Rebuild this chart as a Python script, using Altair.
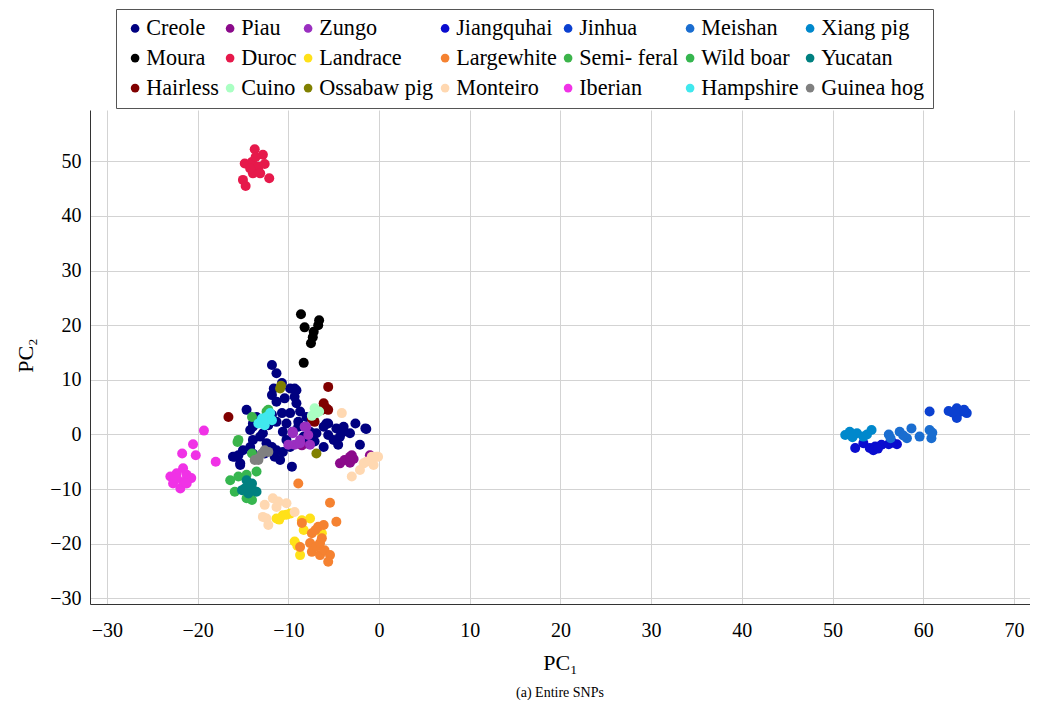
import altair as alt
import pandas as pd

breeds = ["Creole", "Piau", "Zungo", "Jiangquhai", "Jinhua", "Meishan", "Xiang pig",
          "Moura", "Duroc", "Landrace", "Largewhite", "Semi- feral", "Wild boar", "Yucatan",
          "Hairless", "Cuino", "Ossabaw pig", "Monteiro", "Iberian", "Hampshire", "Guinea hog"]
colors = ["#000080", "#8b0a8b", "#9a2fc0", "#0a0ccf", "#0b40d0", "#1a6dd0", "#0088cc",
          "#000000", "#e6194b", "#ffe119", "#f58231", "#3cb44b", "#36b64f", "#008080",
          "#800000", "#aaffc3", "#808000", "#ffd8b1", "#f032e6", "#40e8ee", "#808080"]

creole = [(-11.8,12.7),(-11.3,11.2),(-11.6,8.4),(-10.7,9.4),(-9.8,8.4),(-9.1,8.1),(-11.8,7.2),(-11.3,6.0),
          (-10.4,6.6),(-9.3,6.9),(-9.1,5.7),(-14.6,4.5),(-10.7,3.9),(-9.8,3.9),(-8.7,4.2),(-8.0,3.2),
          (-13.9,2.0),(-11.3,2.3),(-10.2,2.0),(-8.9,2.3),(-7.2,2.6),(-6.1,1.4),(-5.6,2.0),(-4.7,1.1),
          (-3.9,1.4),(-2.6,2.0),(-1.5,1.1),(-2.1,-1.9),(-5.0,-1.0),(-4.3,-0.4),(-6.1,-2.3),(-7.1,-1.3),
          (-8.0,-1.6),(-8.3,-0.4),(-9.5,0.5),(-10.6,0.5),(-9.8,-2.3),(-10.6,-3.2),(-11.5,-4.1),(-10.9,-4.7),
          (-9.6,-5.9),(-12.4,-1.6),(-13.1,-0.4),(-13.9,-1.0),(-14.2,-2.3),(-15.0,-2.9),(-15.9,-4.1),(-15.3,-5.6),
          (-13.9,1.4),(-12.8,0.2),(-12.2,1.7),(-13.9,-3.5),(-11.8,-2.3),(-12.6,-3.5),(-11.3,-2.9),(-3.2,0.2),
          (-5.6,-0.1),(-6.9,0.2),(-8.9,1.4),(-7.6,0.5),(-10.2,-1.0),(-13.5,3.2),(-11.8,3.6),(-14.2,0.8),
          (-1.4,1.0),(-3.9,0.5),(-4.5,-1.9),(-5.8,2.0),(-16.1,-4.1),(-15.5,-3.8),(-15.3,-5.3),(-9.3,8.4)]
piau = [(-4.3,-5.3),(-3.8,-4.7),(-3.0,-3.8),(-2.8,-4.5),(-1.0,-3.8),(-3.2,-5.2),(-3.2,-4.1),(-8.5,-2.0)]
zungo = [(-9.5,0.2),(-8.2,1.4),(-7.8,-0.1),(-8.7,-1.0),(-9.3,-1.9),(-7.6,-1.9),(-10.0,-1.9),(-9.5,0.5),
         (-8.0,1.4),(-8.7,-1.6)]
jiangquhai = [(52.5,-2.5),(53.4,-1.6),(54.1,-2.5),(54.7,-2.2),(55.4,-1.9),(56.2,-1.8),(57.1,-1.8),
              (54.5,-2.9),(55.0,-2.6),(56.6,-1.5)]
jinhua = [(60.7,4.2),(62.8,4.3),(63.7,4.8),(64.2,4.2),(64.8,3.9),(63.7,3.0),(64.5,4.5),(63.2,4.0)]
meishan = [(56.2,0.0),(57.4,0.5),(58.7,1.1),(59.6,-0.4),(60.7,0.8),(60.9,-0.7),(58.2,-0.7),(56.4,-0.7),
           (57.8,-0.2),(61.0,0.3)]
xiang = [(51.4,-0.1),(51.9,0.5),(52.7,0.2),(53.4,-0.4),(54.3,0.8),(53.8,0.0),(52.2,-0.5)]
moura = [(-8.6,22.0),(-6.6,20.9),(-6.7,20.0),(-8.2,19.6),(-7.2,18.8),(-7.3,17.8),(-7.5,16.7),(-8.3,13.1)]
duroc = [(-13.7,52.2),(-12.8,51.2),(-14.8,49.6),(-14.0,49.9),(-13.3,49.0),(-13.9,47.8),(-15.0,46.6),
         (-14.7,45.5),(-12.1,46.9),(-13.1,47.8),(-14.2,48.7),(-12.6,49.5),(-13.6,50.8)]
landrace = [(-11.3,-15.4),(-10.6,-14.8),(-9.8,-14.5),(-11.0,-15.6),(-8.5,-15.7),(-7.6,-15.4),(-8.3,-17.5),
            (-9.3,-19.6),(-8.7,-22.1),(-9.0,-20.4),(-6.3,-18.1),(-10.2,-14.7)]
largewhite = [(-8.9,-9.0),(-5.4,-12.5),(-4.7,-16.0),(-8.5,-16.2),(-7.4,-18.1),(-6.7,-16.9),(-6.1,-16.6),
              (-6.3,-19.0),(-7.6,-19.9),(-8.7,-20.6),(-7.4,-21.5),(-6.5,-22.1),(-6.0,-21.2),(-5.4,-22.1),
              (-5.6,-23.3),(-6.9,-20.5),(-6.5,-19.9),(-7.0,-17.5)]
semiferal = [(-15.5,-1.0),(-15.6,-1.4),(-12.4,4.2),(-14.0,3.2),(-12.2,4.5),(-14.0,-3.5)]
wildboar = [(-16.4,-8.4),(-15.5,-7.7),(-14.6,-7.4),(-13.5,-6.8),(-15.9,-10.5),(-14.6,-11.7),(-14.0,-12.0)]
yucatan = [(-14.6,-8.4),(-14.2,-9.3),(-14.8,-9.9),(-13.9,-10.2),(-13.5,-10.5),(-15.1,-10.2),(-14.4,-10.8),
           (-14.0,-9.0)]
hairless = [(-16.6,3.2),(-5.6,8.7),(-6.1,5.7),(-5.8,4.8),(-6.3,4.5),(-5.6,4.5),(-7.4,2.9),(-7.1,2.3)]
cuino = [(-7.1,4.8),(-6.9,3.9),(-7.4,3.4),(-6.6,4.2)]
ossabaw = [(-10.9,8.4),(-6.9,-3.5),(-10.8,8.9)]
monteiro = [(-4.1,3.9),(-1.4,-5.0),(-0.8,-4.1),(-0.1,-4.1),(-0.6,-5.6),(-1.7,-5.3),(-3.0,-7.7),(-2.1,-6.5),
            (-0.3,-4.1),(-12.6,-12.9),(-11.7,-11.7),(-12.4,-15.4),(-12.2,-16.6),(-11.1,-12.3),(-10.2,-12.6),
            (-9.3,-14.2),(-11.3,-13.3),(-12.8,-15.1)]
iberian = [(-19.3,0.7),(-20.5,-1.8),(-21.7,-3.5),(-20.2,-3.8),(-18.0,-5.0),(-21.6,-6.2),(-23.0,-7.7),
           (-22.3,-7.1),(-21.2,-7.4),(-20.7,-8.0),(-22.7,-9.0),(-21.9,-9.9),(-21.6,-8.7),(-21.2,-9.0),(-22.3,-8.0)]
hampshire = [(-12.9,2.9),(-12.4,3.2),(-11.8,2.6),(-13.3,2.0),(-12.6,1.7),(-12.0,3.9)]
guinea = [(-13.3,-4.4),(-12.9,-3.5),(-12.6,-2.9),(-13.7,-4.7),(-13.3,-4.7),(-12.2,-3.2)]

groups = [creole, piau, zungo, jiangquhai, jinhua, meishan, xiang, moura, duroc, landrace, largewhite,
          semiferal, wildboar, yucatan, hairless, cuino, ossabaw, monteiro, iberian, hampshire, guinea]

rows = []
for i, (name, pts) in enumerate(zip(breeds, groups)):
    for (px, py) in pts:
        rows.append({"PC1": px, "PC2": py, "Breed": name, "order": i})
df = pd.DataFrame(rows)

serif = "Liberation Serif, Times New Roman, DejaVu Serif, serif"

chart = alt.Chart(df).mark_circle(size=100, opacity=1).encode(
    x=alt.X("PC1:Q", scale=alt.Scale(domain=[-31.86, 71.77], nice=False, zero=False),
            axis=alt.Axis(title="PC₁", values=list(range(-30, 71, 10)), ticks=False,
                          labelPadding=16, titleY=58, titleBaseline="middle")),
    y=alt.Y("PC2:Q", scale=alt.Scale(domain=[-31.05, 59.4], nice=False, zero=False),
            axis=alt.Axis(title="PC₂", values=list(range(-30, 51, 10)), ticks=False,
                          labelPadding=9, titleX=-65, titleY=245, titleBaseline="middle")),
    color=alt.Color("Breed:N", scale=alt.Scale(domain=breeds, range=colors),
                    legend=alt.Legend(title=None, orient="none", legendX=26, legendY=-101,
                                      direction="horizontal", columns=7,
                                      symbolType="circle", symbolSize=75,
                                      labelFont=serif, labelFontSize=22.2, labelOffset=0,
                                      columnPadding=0, rowPadding=7, padding=8,
                                      strokeColor="#555555", fillColor="#ffffff",
                                      gridAlign="each", symbolStrokeWidth=0)),
    order=alt.Order("order:Q"),
).properties(
    width=940, height=494,
    padding={"left": 82, "top": 102, "right": 0, "bottom": 96},
    autosize=alt.AutoSizeParams(type="none"),
    title=alt.TitleParams("(a) Entire SNPs", orient="bottom", anchor="middle", font=serif,
                          fontSize=14, fontWeight="normal", offset=13, color="#000000"),
).configure(font=serif).configure_axis(
    labelFont=serif, labelFontSize=20, labelColor="#000000",
    titleFont=serif, titleFontSize=22, titleFontWeight="normal", titleColor="#000000",
    gridColor="#d3d3d3", gridWidth=1, domainColor="#333333", domainWidth=1,
).configure_legend(labelFont=serif).configure_view(stroke=None)

chart.save("out.html", embed_options={"renderer": "svg", "actions": False})
